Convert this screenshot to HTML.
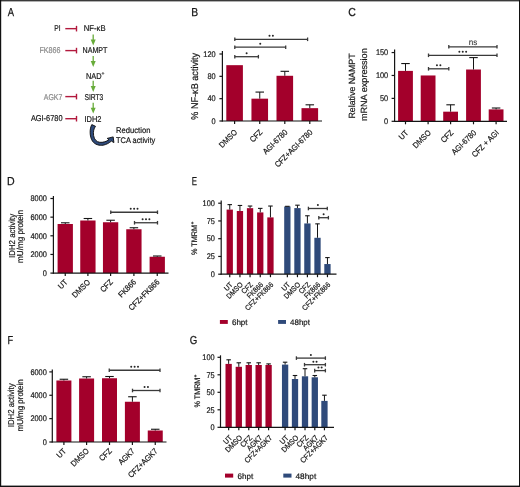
<!DOCTYPE html>
<html><head><meta charset="utf-8"><style>
html,body{margin:0;padding:0;background:#fff;width:520px;height:487px;overflow:hidden;}
svg{display:block;will-change:transform;}
text{font-family:"Liberation Sans",sans-serif;paint-order:stroke;text-rendering:geometricPrecision;}
</style></head><body>
<svg width="520" height="487" viewBox="0 0 520 487">
<rect x="0" y="0" width="520" height="487" fill="#fff"/>
<text transform="translate(7.70 16.40) scale(0.82 1)" font-size="11.5" text-anchor="start" fill="#161616" stroke="#161616" stroke-width="0.25">A</text>
<text transform="translate(60.50 30.90)" font-size="8.5" text-anchor="end" fill="#161616" stroke="#161616" stroke-width="0.2" textLength="6.3" lengthAdjust="spacingAndGlyphs">PI</text>
<text transform="translate(60.50 53.10)" font-size="8.5" text-anchor="end" fill="#8a8a8a" stroke="#8a8a8a" stroke-width="0.2" textLength="21.0" lengthAdjust="spacingAndGlyphs">FK866</text>
<text transform="translate(62.30 100.20)" font-size="8.5" text-anchor="end" fill="#8a8a8a" stroke="#8a8a8a" stroke-width="0.2" textLength="18.5" lengthAdjust="spacingAndGlyphs">AGK7</text>
<text transform="translate(62.50 121.40)" font-size="8.5" text-anchor="end" fill="#161616" stroke="#161616" stroke-width="0.2" textLength="31.6" lengthAdjust="spacingAndGlyphs">AGI-6780</text>
<line x1="65.30" y1="28.65" x2="76.60" y2="28.65" stroke="#B2193D" stroke-width="1.4"/>
<line x1="76.50" y1="25.85" x2="76.50" y2="31.45" stroke="#B2193D" stroke-width="1.4"/>
<line x1="65.30" y1="50.60" x2="76.60" y2="50.60" stroke="#B2193D" stroke-width="1.4"/>
<line x1="76.50" y1="47.80" x2="76.50" y2="53.40" stroke="#B2193D" stroke-width="1.4"/>
<line x1="65.30" y1="96.60" x2="76.60" y2="96.60" stroke="#B2193D" stroke-width="1.4"/>
<line x1="76.50" y1="93.80" x2="76.50" y2="99.40" stroke="#B2193D" stroke-width="1.4"/>
<line x1="65.30" y1="118.70" x2="76.60" y2="118.70" stroke="#B2193D" stroke-width="1.4"/>
<line x1="76.50" y1="115.90" x2="76.50" y2="121.50" stroke="#B2193D" stroke-width="1.4"/>
<text transform="translate(83.80 30.90)" font-size="8.5" text-anchor="start" fill="#161616" stroke="#161616" stroke-width="0.2" textLength="21.8" lengthAdjust="spacingAndGlyphs">NF-κB</text>
<text transform="translate(82.50 53.10)" font-size="8.5" text-anchor="start" fill="#161616" stroke="#161616" stroke-width="0.2" textLength="24.9" lengthAdjust="spacingAndGlyphs">NAMPT</text>
<text transform="translate(86.00 78.60)" font-size="8.5" text-anchor="start" fill="#161616" stroke="#161616" stroke-width="0.2" textLength="15.6" lengthAdjust="spacingAndGlyphs">NAD</text>
<text transform="translate(101.50 75.20)" font-size="5.0" text-anchor="start" fill="#161616" stroke="#161616" stroke-width="0.2">+</text>
<text transform="translate(84.40 100.20)" font-size="8.5" text-anchor="start" fill="#161616" stroke="#161616" stroke-width="0.2" textLength="18.9" lengthAdjust="spacingAndGlyphs">SIRT3</text>
<text transform="translate(84.50 121.90)" font-size="8.5" text-anchor="start" fill="#161616" stroke="#161616" stroke-width="0.2" textLength="17.0" lengthAdjust="spacingAndGlyphs">IDH2</text>
<line x1="93.20" y1="34.40" x2="93.20" y2="42.40" stroke="#68AC3A" stroke-width="1.3"/>
<polygon points="90.7,39.5 95.7,39.5 93.2,45.4" fill="#68AC3A"/>
<line x1="93.20" y1="56.00" x2="93.20" y2="64.00" stroke="#68AC3A" stroke-width="1.3"/>
<polygon points="90.7,61.1 95.7,61.1 93.2,67.0" fill="#68AC3A"/>
<line x1="93.20" y1="80.80" x2="93.20" y2="88.90" stroke="#68AC3A" stroke-width="1.3"/>
<polygon points="90.7,86.0 95.7,86.0 93.2,91.9" fill="#68AC3A"/>
<line x1="93.20" y1="102.80" x2="93.20" y2="110.60" stroke="#68AC3A" stroke-width="1.3"/>
<polygon points="90.7,107.7 95.7,107.7 93.2,113.6" fill="#68AC3A"/>
<path d="M91.8 124.6 C89.5 128.5, 89.4 136.5, 92.5 141.2 C94.8 144.6, 99.5 145.8, 103.2 145.2 C106.5 144.6, 109.4 142.8, 111.4 141.1 L113.9 142.6 L113.2 136.9 L107.2 138.4 L109.0 139.6 C106.5 141.6, 103 142.6, 99.8 142.3 C96.5 141.9, 94.2 139.5, 93.6 135.5 C93.0 131.5, 93.9 128.5, 95.5 126.3 Z" fill="#2F4A7A" stroke="#0a0a0a" stroke-width="0.9" stroke-linejoin="round"/>
<text transform="translate(116.00 133.10)" font-size="8.2" text-anchor="start" fill="#161616" stroke="#161616" stroke-width="0.2" textLength="34.4" lengthAdjust="spacingAndGlyphs">Reduction</text>
<text transform="translate(116.00 143.20)" font-size="8.2" text-anchor="start" fill="#161616" stroke="#161616" stroke-width="0.2" textLength="39.2" lengthAdjust="spacingAndGlyphs">TCA activity</text>
<text transform="translate(191.20 16.40) scale(0.9 1)" font-size="11.5" text-anchor="start" fill="#161616" stroke="#161616" stroke-width="0.25">B</text>
<rect x="226.30" y="65.17" width="16.60" height="55.83" fill="#A3002B"/>
<rect x="251.45" y="98.67" width="16.60" height="22.33" fill="#A3002B"/>
<rect x="276.50" y="75.78" width="16.60" height="45.22" fill="#A3002B"/>
<rect x="301.50" y="108.16" width="16.60" height="12.84" fill="#A3002B"/>
<line x1="259.75" y1="92.08" x2="259.75" y2="98.67" stroke="#151515" stroke-width="1"/>
<line x1="255.50" y1="92.08" x2="264.00" y2="92.08" stroke="#151515" stroke-width="1.1"/>
<line x1="284.80" y1="71.31" x2="284.80" y2="75.78" stroke="#151515" stroke-width="1"/>
<line x1="280.55" y1="71.31" x2="289.05" y2="71.31" stroke="#151515" stroke-width="1.1"/>
<line x1="309.80" y1="104.81" x2="309.80" y2="108.16" stroke="#151515" stroke-width="1"/>
<line x1="305.55" y1="104.81" x2="314.05" y2="104.81" stroke="#151515" stroke-width="1.1"/>
<line x1="222.40" y1="51.00" x2="222.40" y2="121.60" stroke="#151515" stroke-width="1.2"/>
<line x1="219.40" y1="121.00" x2="222.40" y2="121.00" stroke="#151515" stroke-width="1.2"/>
<text transform="translate(215.60 123.79) scale(0.9 1)" font-size="8.2" text-anchor="end" fill="#161616" stroke="#161616" stroke-width="0.2">0</text>
<line x1="219.40" y1="98.67" x2="222.40" y2="98.67" stroke="#151515" stroke-width="1.2"/>
<text transform="translate(215.60 101.46) scale(0.9 1)" font-size="8.2" text-anchor="end" fill="#161616" stroke="#161616" stroke-width="0.2">40</text>
<line x1="219.40" y1="76.34" x2="222.40" y2="76.34" stroke="#151515" stroke-width="1.2"/>
<text transform="translate(215.60 79.12) scale(0.9 1)" font-size="8.2" text-anchor="end" fill="#161616" stroke="#161616" stroke-width="0.2">80</text>
<line x1="219.40" y1="54.00" x2="222.40" y2="54.00" stroke="#151515" stroke-width="1.2"/>
<text transform="translate(215.60 56.79) scale(0.9 1)" font-size="8.2" text-anchor="end" fill="#161616" stroke="#161616" stroke-width="0.2">120</text>
<line x1="221.80" y1="121.00" x2="322.00" y2="121.00" stroke="#151515" stroke-width="1.2"/>
<line x1="234.60" y1="121.00" x2="234.60" y2="124.00" stroke="#151515" stroke-width="1.2"/>
<line x1="259.75" y1="121.00" x2="259.75" y2="124.00" stroke="#151515" stroke-width="1.2"/>
<line x1="284.80" y1="121.00" x2="284.80" y2="124.00" stroke="#151515" stroke-width="1.2"/>
<line x1="309.80" y1="121.00" x2="309.80" y2="124.00" stroke="#151515" stroke-width="1.2"/>
<line x1="234.80" y1="56.70" x2="258.40" y2="56.70" stroke="#3a3a3a" stroke-width="1.3"/>
<line x1="234.80" y1="54.90" x2="234.80" y2="58.50" stroke="#3a3a3a" stroke-width="1.3"/>
<line x1="258.40" y1="54.90" x2="258.40" y2="58.50" stroke="#3a3a3a" stroke-width="1.3"/>
<circle cx="246.60" cy="53.20" r="1.0" fill="#262626"/>
<line x1="234.80" y1="47.20" x2="285.70" y2="47.20" stroke="#3a3a3a" stroke-width="1.3"/>
<line x1="234.80" y1="45.40" x2="234.80" y2="49.00" stroke="#3a3a3a" stroke-width="1.3"/>
<line x1="285.70" y1="45.40" x2="285.70" y2="49.00" stroke="#3a3a3a" stroke-width="1.3"/>
<circle cx="260.25" cy="43.70" r="1.0" fill="#262626"/>
<line x1="234.80" y1="39.30" x2="307.60" y2="39.30" stroke="#3a3a3a" stroke-width="1.3"/>
<line x1="234.80" y1="37.50" x2="234.80" y2="41.10" stroke="#3a3a3a" stroke-width="1.3"/>
<line x1="307.60" y1="37.50" x2="307.60" y2="41.10" stroke="#3a3a3a" stroke-width="1.3"/>
<circle cx="269.50" cy="35.80" r="1.0" fill="#262626"/>
<circle cx="272.90" cy="35.80" r="1.0" fill="#262626"/>
<text transform="translate(237.80 132.80) rotate(-45) scale(0.9 1)" font-size="8.1" text-anchor="end" fill="#161616" stroke="#161616" stroke-width="0.2">DMSO</text>
<text transform="translate(262.95 132.80) rotate(-45) scale(0.9 1)" font-size="8.1" text-anchor="end" fill="#161616" stroke="#161616" stroke-width="0.2">CFZ</text>
<text transform="translate(288.00 132.80) rotate(-45) scale(0.9 1)" font-size="8.1" text-anchor="end" fill="#161616" stroke="#161616" stroke-width="0.2">AGI-6780</text>
<text transform="translate(313.00 132.80) rotate(-45) scale(0.9 1)" font-size="8.1" text-anchor="end" fill="#161616" stroke="#161616" stroke-width="0.2">CFZ+AGI-6780</text>
<text transform="translate(198.40 86.30) rotate(-90)" font-size="9.8" text-anchor="middle" fill="#161616" stroke="#161616" stroke-width="0.2" textLength="66.8" lengthAdjust="spacingAndGlyphs">% NF-κB activity</text>
<text transform="translate(348.30 16.40) scale(0.92 1)" font-size="11.5" text-anchor="start" fill="#161616" stroke="#161616" stroke-width="0.25">C</text>
<rect x="398.10" y="70.89" width="14.80" height="50.41" fill="#A3002B"/>
<rect x="420.70" y="75.47" width="14.80" height="45.83" fill="#A3002B"/>
<rect x="443.20" y="111.68" width="14.80" height="9.62" fill="#A3002B"/>
<rect x="466.10" y="69.51" width="14.80" height="51.79" fill="#A3002B"/>
<rect x="488.70" y="109.38" width="14.80" height="11.92" fill="#A3002B"/>
<line x1="405.50" y1="63.55" x2="405.50" y2="70.89" stroke="#151515" stroke-width="1"/>
<line x1="401.25" y1="63.55" x2="409.75" y2="63.55" stroke="#151515" stroke-width="1.1"/>
<line x1="450.60" y1="104.80" x2="450.60" y2="111.68" stroke="#151515" stroke-width="1"/>
<line x1="446.35" y1="104.80" x2="454.85" y2="104.80" stroke="#151515" stroke-width="1.1"/>
<line x1="473.50" y1="57.60" x2="473.50" y2="69.51" stroke="#151515" stroke-width="1"/>
<line x1="469.25" y1="57.60" x2="477.75" y2="57.60" stroke="#151515" stroke-width="1.1"/>
<line x1="496.10" y1="108.01" x2="496.10" y2="109.38" stroke="#151515" stroke-width="1"/>
<line x1="491.85" y1="108.01" x2="500.35" y2="108.01" stroke="#151515" stroke-width="1.1"/>
<line x1="394.60" y1="49.50" x2="394.60" y2="121.90" stroke="#151515" stroke-width="1.2"/>
<line x1="391.60" y1="121.30" x2="394.60" y2="121.30" stroke="#151515" stroke-width="1.2"/>
<text transform="translate(388.20 124.09) scale(0.9 1)" font-size="8.2" text-anchor="end" fill="#161616" stroke="#161616" stroke-width="0.2">0</text>
<line x1="391.60" y1="98.38" x2="394.60" y2="98.38" stroke="#151515" stroke-width="1.2"/>
<text transform="translate(388.20 101.17) scale(0.9 1)" font-size="8.2" text-anchor="end" fill="#161616" stroke="#161616" stroke-width="0.2">50</text>
<line x1="391.60" y1="75.47" x2="394.60" y2="75.47" stroke="#151515" stroke-width="1.2"/>
<text transform="translate(388.20 78.26) scale(0.9 1)" font-size="8.2" text-anchor="end" fill="#161616" stroke="#161616" stroke-width="0.2">100</text>
<line x1="391.60" y1="52.55" x2="394.60" y2="52.55" stroke="#151515" stroke-width="1.2"/>
<text transform="translate(388.20 55.34) scale(0.9 1)" font-size="8.2" text-anchor="end" fill="#161616" stroke="#161616" stroke-width="0.2">150</text>
<line x1="394.00" y1="121.30" x2="507.00" y2="121.30" stroke="#151515" stroke-width="1.2"/>
<line x1="405.50" y1="121.30" x2="405.50" y2="124.30" stroke="#151515" stroke-width="1.2"/>
<line x1="428.10" y1="121.30" x2="428.10" y2="124.30" stroke="#151515" stroke-width="1.2"/>
<line x1="450.60" y1="121.30" x2="450.60" y2="124.30" stroke="#151515" stroke-width="1.2"/>
<line x1="473.50" y1="121.30" x2="473.50" y2="124.30" stroke="#151515" stroke-width="1.2"/>
<line x1="496.10" y1="121.30" x2="496.10" y2="124.30" stroke="#151515" stroke-width="1.2"/>
<line x1="428.50" y1="68.80" x2="448.80" y2="68.80" stroke="#3a3a3a" stroke-width="1.3"/>
<line x1="428.50" y1="67.00" x2="428.50" y2="70.60" stroke="#3a3a3a" stroke-width="1.3"/>
<line x1="448.80" y1="67.00" x2="448.80" y2="70.60" stroke="#3a3a3a" stroke-width="1.3"/>
<circle cx="436.95" cy="65.30" r="1.0" fill="#262626"/>
<circle cx="440.35" cy="65.30" r="1.0" fill="#262626"/>
<line x1="428.50" y1="55.30" x2="497.00" y2="55.30" stroke="#3a3a3a" stroke-width="1.3"/>
<line x1="428.50" y1="53.50" x2="428.50" y2="57.10" stroke="#3a3a3a" stroke-width="1.3"/>
<line x1="497.00" y1="53.50" x2="497.00" y2="57.10" stroke="#3a3a3a" stroke-width="1.3"/>
<circle cx="459.35" cy="51.80" r="1.0" fill="#262626"/>
<circle cx="462.75" cy="51.80" r="1.0" fill="#262626"/>
<circle cx="466.15" cy="51.80" r="1.0" fill="#262626"/>
<line x1="448.80" y1="46.80" x2="497.00" y2="46.80" stroke="#3a3a3a" stroke-width="1.3"/>
<line x1="448.80" y1="45.00" x2="448.80" y2="48.60" stroke="#3a3a3a" stroke-width="1.3"/>
<line x1="497.00" y1="45.00" x2="497.00" y2="48.60" stroke="#3a3a3a" stroke-width="1.3"/>
<text transform="translate(472.90 44.50) scale(0.95 1)" font-size="8.5" text-anchor="middle" fill="#3a3a3a" stroke="#3a3a3a" stroke-width="0.12">ns</text>
<text transform="translate(408.80 133.30) rotate(-45) scale(0.9 1)" font-size="8.1" text-anchor="end" fill="#161616" stroke="#161616" stroke-width="0.2">UT</text>
<text transform="translate(431.40 133.30) rotate(-45) scale(0.9 1)" font-size="8.1" text-anchor="end" fill="#161616" stroke="#161616" stroke-width="0.2">DMSO</text>
<text transform="translate(453.90 133.30) rotate(-45) scale(0.9 1)" font-size="8.1" text-anchor="end" fill="#161616" stroke="#161616" stroke-width="0.2">CFZ</text>
<text transform="translate(476.80 133.30) rotate(-45) scale(0.9 1)" font-size="8.1" text-anchor="end" fill="#161616" stroke="#161616" stroke-width="0.2">AGI-6780</text>
<text transform="translate(499.40 133.30) rotate(-45) scale(0.9 1)" font-size="8.1" text-anchor="end" fill="#161616" stroke="#161616" stroke-width="0.2">CFZ + AGI</text>
<text transform="translate(354.90 86.00) rotate(-90)" font-size="9.0" text-anchor="middle" fill="#161616" stroke="#161616" stroke-width="0.2" textLength="65.0" lengthAdjust="spacingAndGlyphs">Relative NAMPT</text>
<text transform="translate(367.20 84.70) rotate(-90)" font-size="9.0" text-anchor="middle" fill="#161616" stroke="#161616" stroke-width="0.2" textLength="72.8" lengthAdjust="spacingAndGlyphs">mRNA expression</text>
<text transform="translate(7.00 184.60) scale(0.92 1)" font-size="11.5" text-anchor="start" fill="#161616" stroke="#161616" stroke-width="0.25">D</text>
<rect x="57.60" y="224.00" width="15.30" height="49.10" fill="#A3002B"/>
<rect x="80.25" y="220.50" width="15.30" height="52.60" fill="#A3002B"/>
<rect x="102.95" y="222.25" width="15.30" height="50.85" fill="#A3002B"/>
<rect x="126.25" y="229.25" width="15.30" height="43.85" fill="#A3002B"/>
<rect x="149.60" y="256.75" width="15.30" height="16.35" fill="#A3002B"/>
<line x1="65.25" y1="222.80" x2="65.25" y2="224.00" stroke="#151515" stroke-width="1"/>
<line x1="61.00" y1="222.80" x2="69.50" y2="222.80" stroke="#151515" stroke-width="1.1"/>
<line x1="87.90" y1="218.50" x2="87.90" y2="220.50" stroke="#151515" stroke-width="1"/>
<line x1="83.65" y1="218.50" x2="92.15" y2="218.50" stroke="#151515" stroke-width="1.1"/>
<line x1="110.60" y1="220.25" x2="110.60" y2="222.25" stroke="#151515" stroke-width="1"/>
<line x1="106.35" y1="220.25" x2="114.85" y2="220.25" stroke="#151515" stroke-width="1.1"/>
<line x1="133.90" y1="227.75" x2="133.90" y2="229.25" stroke="#151515" stroke-width="1"/>
<line x1="129.65" y1="227.75" x2="138.15" y2="227.75" stroke="#151515" stroke-width="1.1"/>
<line x1="157.25" y1="256.00" x2="157.25" y2="256.75" stroke="#151515" stroke-width="1"/>
<line x1="153.00" y1="256.00" x2="161.50" y2="256.00" stroke="#151515" stroke-width="1.1"/>
<line x1="53.40" y1="195.90" x2="53.40" y2="273.70" stroke="#151515" stroke-width="1.2"/>
<line x1="50.40" y1="273.10" x2="53.40" y2="273.10" stroke="#151515" stroke-width="1.2"/>
<text transform="translate(46.90 275.89) scale(0.9 1)" font-size="8.2" text-anchor="end" fill="#161616" stroke="#161616" stroke-width="0.2">0</text>
<line x1="50.40" y1="254.45" x2="53.40" y2="254.45" stroke="#151515" stroke-width="1.2"/>
<text transform="translate(46.90 257.24) scale(0.9 1)" font-size="8.2" text-anchor="end" fill="#161616" stroke="#161616" stroke-width="0.2">2000</text>
<line x1="50.40" y1="235.80" x2="53.40" y2="235.80" stroke="#151515" stroke-width="1.2"/>
<text transform="translate(46.90 238.59) scale(0.9 1)" font-size="8.2" text-anchor="end" fill="#161616" stroke="#161616" stroke-width="0.2">4000</text>
<line x1="50.40" y1="217.15" x2="53.40" y2="217.15" stroke="#151515" stroke-width="1.2"/>
<text transform="translate(46.90 219.94) scale(0.9 1)" font-size="8.2" text-anchor="end" fill="#161616" stroke="#161616" stroke-width="0.2">6000</text>
<line x1="50.40" y1="198.50" x2="53.40" y2="198.50" stroke="#151515" stroke-width="1.2"/>
<text transform="translate(46.90 201.29) scale(0.9 1)" font-size="8.2" text-anchor="end" fill="#161616" stroke="#161616" stroke-width="0.2">8000</text>
<line x1="52.80" y1="273.10" x2="168.50" y2="273.10" stroke="#151515" stroke-width="1.2"/>
<line x1="65.25" y1="273.10" x2="65.25" y2="276.10" stroke="#151515" stroke-width="1.2"/>
<line x1="87.90" y1="273.10" x2="87.90" y2="276.10" stroke="#151515" stroke-width="1.2"/>
<line x1="110.60" y1="273.10" x2="110.60" y2="276.10" stroke="#151515" stroke-width="1.2"/>
<line x1="133.90" y1="273.10" x2="133.90" y2="276.10" stroke="#151515" stroke-width="1.2"/>
<line x1="157.25" y1="273.10" x2="157.25" y2="276.10" stroke="#151515" stroke-width="1.2"/>
<line x1="110.75" y1="212.25" x2="157.50" y2="212.25" stroke="#3a3a3a" stroke-width="1.3"/>
<line x1="110.75" y1="210.45" x2="110.75" y2="214.05" stroke="#3a3a3a" stroke-width="1.3"/>
<line x1="157.50" y1="210.45" x2="157.50" y2="214.05" stroke="#3a3a3a" stroke-width="1.3"/>
<circle cx="130.72" cy="208.75" r="1.0" fill="#262626"/>
<circle cx="134.12" cy="208.75" r="1.0" fill="#262626"/>
<circle cx="137.53" cy="208.75" r="1.0" fill="#262626"/>
<line x1="134.50" y1="222.75" x2="157.50" y2="222.75" stroke="#3a3a3a" stroke-width="1.3"/>
<line x1="134.50" y1="220.95" x2="134.50" y2="224.55" stroke="#3a3a3a" stroke-width="1.3"/>
<line x1="157.50" y1="220.95" x2="157.50" y2="224.55" stroke="#3a3a3a" stroke-width="1.3"/>
<circle cx="142.60" cy="219.25" r="1.0" fill="#262626"/>
<circle cx="146.00" cy="219.25" r="1.0" fill="#262626"/>
<circle cx="149.40" cy="219.25" r="1.0" fill="#262626"/>
<text transform="translate(68.05 282.70) rotate(-45) scale(0.9 1)" font-size="8.1" text-anchor="end" fill="#161616" stroke="#161616" stroke-width="0.2">UT</text>
<text transform="translate(90.70 282.70) rotate(-45) scale(0.9 1)" font-size="8.1" text-anchor="end" fill="#161616" stroke="#161616" stroke-width="0.2">DMSO</text>
<text transform="translate(113.40 282.70) rotate(-45) scale(0.9 1)" font-size="8.1" text-anchor="end" fill="#161616" stroke="#161616" stroke-width="0.2">CFZ</text>
<text transform="translate(136.70 282.70) rotate(-45) scale(0.9 1)" font-size="8.1" text-anchor="end" fill="#161616" stroke="#161616" stroke-width="0.2">FK866</text>
<text transform="translate(160.05 282.70) rotate(-45) scale(0.9 1)" font-size="8.1" text-anchor="end" fill="#161616" stroke="#161616" stroke-width="0.2">CFZ+FK866</text>
<text transform="translate(14.80 235.90) rotate(-90)" font-size="8.6" text-anchor="middle" fill="#161616" stroke="#161616" stroke-width="0.2" textLength="44.0" lengthAdjust="spacingAndGlyphs">IDH2 activity</text>
<text transform="translate(23.30 236.40) rotate(-90)" font-size="8.6" text-anchor="middle" fill="#161616" stroke="#161616" stroke-width="0.2" textLength="53.0" lengthAdjust="spacingAndGlyphs">mU/mg protein</text>
<text transform="translate(191.80 184.60) scale(0.68 1)" font-size="11.5" text-anchor="start" fill="#161616" stroke="#161616" stroke-width="0.25">E</text>
<rect x="226.60" y="209.59" width="6.30" height="64.61" fill="#A3002B"/>
<rect x="236.80" y="211.01" width="6.30" height="63.19" fill="#A3002B"/>
<rect x="246.90" y="208.17" width="6.30" height="66.03" fill="#A3002B"/>
<rect x="257.10" y="212.43" width="6.30" height="61.77" fill="#A3002B"/>
<rect x="267.30" y="217.40" width="6.30" height="56.80" fill="#A3002B"/>
<rect x="284.20" y="206.47" width="6.30" height="67.73" fill="#2F4A7A"/>
<rect x="294.30" y="208.10" width="6.30" height="66.10" fill="#2F4A7A"/>
<rect x="304.25" y="223.44" width="6.30" height="50.76" fill="#2F4A7A"/>
<rect x="314.35" y="237.78" width="6.30" height="36.42" fill="#2F4A7A"/>
<rect x="324.30" y="264.05" width="6.30" height="10.15" fill="#2F4A7A"/>
<line x1="229.75" y1="204.62" x2="229.75" y2="209.59" stroke="#151515" stroke-width="1"/>
<line x1="227.50" y1="204.62" x2="232.00" y2="204.62" stroke="#151515" stroke-width="1.1"/>
<line x1="239.95" y1="205.47" x2="239.95" y2="211.01" stroke="#151515" stroke-width="1"/>
<line x1="237.70" y1="205.47" x2="242.20" y2="205.47" stroke="#151515" stroke-width="1.1"/>
<line x1="250.05" y1="206.04" x2="250.05" y2="208.17" stroke="#151515" stroke-width="1"/>
<line x1="247.80" y1="206.04" x2="252.30" y2="206.04" stroke="#151515" stroke-width="1.1"/>
<line x1="260.25" y1="208.38" x2="260.25" y2="212.43" stroke="#151515" stroke-width="1"/>
<line x1="258.00" y1="208.38" x2="262.50" y2="208.38" stroke="#151515" stroke-width="1.1"/>
<line x1="270.45" y1="206.04" x2="270.45" y2="217.40" stroke="#151515" stroke-width="1"/>
<line x1="268.20" y1="206.04" x2="272.70" y2="206.04" stroke="#151515" stroke-width="1.1"/>
<line x1="285.10" y1="206.32" x2="289.60" y2="206.32" stroke="#151515" stroke-width="1.1"/>
<line x1="297.45" y1="205.19" x2="297.45" y2="208.10" stroke="#151515" stroke-width="1"/>
<line x1="295.20" y1="205.19" x2="299.70" y2="205.19" stroke="#151515" stroke-width="1.1"/>
<line x1="307.40" y1="215.77" x2="307.40" y2="223.44" stroke="#151515" stroke-width="1"/>
<line x1="305.15" y1="215.77" x2="309.65" y2="215.77" stroke="#151515" stroke-width="1.1"/>
<line x1="317.50" y1="223.86" x2="317.50" y2="237.78" stroke="#151515" stroke-width="1"/>
<line x1="315.25" y1="223.86" x2="319.75" y2="223.86" stroke="#151515" stroke-width="1.1"/>
<line x1="327.45" y1="257.59" x2="327.45" y2="264.05" stroke="#151515" stroke-width="1"/>
<line x1="325.20" y1="257.59" x2="329.70" y2="257.59" stroke="#151515" stroke-width="1.1"/>
<line x1="221.20" y1="200.50" x2="221.20" y2="274.80" stroke="#151515" stroke-width="1.2"/>
<line x1="218.20" y1="274.20" x2="221.20" y2="274.20" stroke="#151515" stroke-width="1.2"/>
<text transform="translate(214.90 276.99) scale(0.9 1)" font-size="8.2" text-anchor="end" fill="#161616" stroke="#161616" stroke-width="0.2">0</text>
<line x1="218.20" y1="256.45" x2="221.20" y2="256.45" stroke="#151515" stroke-width="1.2"/>
<text transform="translate(214.90 259.24) scale(0.9 1)" font-size="8.2" text-anchor="end" fill="#161616" stroke="#161616" stroke-width="0.2">25</text>
<line x1="218.20" y1="238.70" x2="221.20" y2="238.70" stroke="#151515" stroke-width="1.2"/>
<text transform="translate(214.90 241.49) scale(0.9 1)" font-size="8.2" text-anchor="end" fill="#161616" stroke="#161616" stroke-width="0.2">50</text>
<line x1="218.20" y1="220.95" x2="221.20" y2="220.95" stroke="#151515" stroke-width="1.2"/>
<text transform="translate(214.90 223.74) scale(0.9 1)" font-size="8.2" text-anchor="end" fill="#161616" stroke="#161616" stroke-width="0.2">75</text>
<line x1="218.20" y1="203.20" x2="221.20" y2="203.20" stroke="#151515" stroke-width="1.2"/>
<text transform="translate(214.90 205.99) scale(0.9 1)" font-size="8.2" text-anchor="end" fill="#161616" stroke="#161616" stroke-width="0.2">100</text>
<line x1="220.60" y1="274.20" x2="336.50" y2="274.20" stroke="#151515" stroke-width="1.2"/>
<line x1="229.75" y1="274.20" x2="229.75" y2="277.20" stroke="#151515" stroke-width="1.2"/>
<line x1="239.95" y1="274.20" x2="239.95" y2="277.20" stroke="#151515" stroke-width="1.2"/>
<line x1="250.05" y1="274.20" x2="250.05" y2="277.20" stroke="#151515" stroke-width="1.2"/>
<line x1="260.25" y1="274.20" x2="260.25" y2="277.20" stroke="#151515" stroke-width="1.2"/>
<line x1="270.45" y1="274.20" x2="270.45" y2="277.20" stroke="#151515" stroke-width="1.2"/>
<line x1="287.35" y1="274.20" x2="287.35" y2="277.20" stroke="#151515" stroke-width="1.2"/>
<line x1="297.45" y1="274.20" x2="297.45" y2="277.20" stroke="#151515" stroke-width="1.2"/>
<line x1="307.40" y1="274.20" x2="307.40" y2="277.20" stroke="#151515" stroke-width="1.2"/>
<line x1="317.50" y1="274.20" x2="317.50" y2="277.20" stroke="#151515" stroke-width="1.2"/>
<line x1="327.45" y1="274.20" x2="327.45" y2="277.20" stroke="#151515" stroke-width="1.2"/>
<line x1="308.40" y1="208.50" x2="327.30" y2="208.50" stroke="#3a3a3a" stroke-width="1.3"/>
<line x1="308.40" y1="206.70" x2="308.40" y2="210.30" stroke="#3a3a3a" stroke-width="1.3"/>
<line x1="327.30" y1="206.70" x2="327.30" y2="210.30" stroke="#3a3a3a" stroke-width="1.3"/>
<circle cx="317.85" cy="205.10" r="1.0" fill="#262626"/>
<line x1="318.80" y1="217.70" x2="328.40" y2="217.70" stroke="#3a3a3a" stroke-width="1.3"/>
<line x1="318.80" y1="215.90" x2="318.80" y2="219.50" stroke="#3a3a3a" stroke-width="1.3"/>
<line x1="328.40" y1="215.90" x2="328.40" y2="219.50" stroke="#3a3a3a" stroke-width="1.3"/>
<circle cx="323.60" cy="214.30" r="1.0" fill="#262626"/>
<text transform="translate(233.15 285.20) rotate(-45) scale(0.9 1)" font-size="7.4" text-anchor="end" fill="#161616" stroke="#161616" stroke-width="0.2">UT</text>
<text transform="translate(243.35 285.20) rotate(-45) scale(0.9 1)" font-size="7.4" text-anchor="end" fill="#161616" stroke="#161616" stroke-width="0.2">DMSO</text>
<text transform="translate(253.45 285.20) rotate(-45) scale(0.9 1)" font-size="7.4" text-anchor="end" fill="#161616" stroke="#161616" stroke-width="0.2">CFZ</text>
<text transform="translate(263.65 285.20) rotate(-45) scale(0.9 1)" font-size="7.4" text-anchor="end" fill="#161616" stroke="#161616" stroke-width="0.2">FK866</text>
<text transform="translate(273.85 285.20) rotate(-45) scale(0.9 1)" font-size="7.4" text-anchor="end" fill="#161616" stroke="#161616" stroke-width="0.2">CFZ+FK866</text>
<text transform="translate(290.75 285.20) rotate(-45) scale(0.9 1)" font-size="7.4" text-anchor="end" fill="#161616" stroke="#161616" stroke-width="0.2">UT</text>
<text transform="translate(300.85 285.20) rotate(-45) scale(0.9 1)" font-size="7.4" text-anchor="end" fill="#161616" stroke="#161616" stroke-width="0.2">DMSO</text>
<text transform="translate(310.80 285.20) rotate(-45) scale(0.9 1)" font-size="7.4" text-anchor="end" fill="#161616" stroke="#161616" stroke-width="0.2">CFZ</text>
<text transform="translate(320.90 285.20) rotate(-45) scale(0.9 1)" font-size="7.4" text-anchor="end" fill="#161616" stroke="#161616" stroke-width="0.2">FK866</text>
<text transform="translate(330.85 285.20) rotate(-45) scale(0.9 1)" font-size="7.4" text-anchor="end" fill="#161616" stroke="#161616" stroke-width="0.2">CFZ+FK866</text>
<text transform="translate(196.60 240.00) rotate(-90) scale(0.9 1)" font-size="8.0" text-anchor="middle" fill="#161616" stroke="#161616" stroke-width="0.2">% TMRM</text>
<text transform="translate(194.00 223.10) rotate(-90)" font-size="5.0" text-anchor="middle" fill="#161616" stroke="#161616" stroke-width="0.2">+</text>
<rect x="219.90" y="320.00" width="7.90" height="3.90" fill="#A3002B"/>
<text transform="translate(231.90 324.80)" font-size="8.0" text-anchor="start" fill="#161616" stroke="#161616" stroke-width="0.2" textLength="15.7" lengthAdjust="spacingAndGlyphs">6hpt</text>
<rect x="278.10" y="320.00" width="7.90" height="3.90" fill="#2F4A7A"/>
<text transform="translate(290.10 324.80)" font-size="8.0" text-anchor="start" fill="#161616" stroke="#161616" stroke-width="0.2" textLength="19.8" lengthAdjust="spacingAndGlyphs">48hpt</text>
<text transform="translate(7.50 343.80) scale(0.8 1)" font-size="11.5" text-anchor="start" fill="#161616" stroke="#161616" stroke-width="0.25">F</text>
<rect x="56.40" y="380.50" width="15.00" height="61.50" fill="#A3002B"/>
<rect x="79.10" y="378.50" width="15.00" height="63.50" fill="#A3002B"/>
<rect x="102.00" y="378.25" width="15.00" height="63.75" fill="#A3002B"/>
<rect x="124.90" y="401.75" width="15.00" height="40.25" fill="#A3002B"/>
<rect x="147.75" y="430.50" width="15.00" height="11.50" fill="#A3002B"/>
<line x1="63.90" y1="379.25" x2="63.90" y2="380.50" stroke="#151515" stroke-width="1"/>
<line x1="59.65" y1="379.25" x2="68.15" y2="379.25" stroke="#151515" stroke-width="1.1"/>
<line x1="86.60" y1="376.75" x2="86.60" y2="378.50" stroke="#151515" stroke-width="1"/>
<line x1="82.35" y1="376.75" x2="90.85" y2="376.75" stroke="#151515" stroke-width="1.1"/>
<line x1="109.50" y1="376.50" x2="109.50" y2="378.25" stroke="#151515" stroke-width="1"/>
<line x1="105.25" y1="376.50" x2="113.75" y2="376.50" stroke="#151515" stroke-width="1.1"/>
<line x1="132.40" y1="396.75" x2="132.40" y2="401.75" stroke="#151515" stroke-width="1"/>
<line x1="128.15" y1="396.75" x2="136.65" y2="396.75" stroke="#151515" stroke-width="1.1"/>
<line x1="155.25" y1="429.25" x2="155.25" y2="430.50" stroke="#151515" stroke-width="1"/>
<line x1="151.00" y1="429.25" x2="159.50" y2="429.25" stroke="#151515" stroke-width="1.1"/>
<line x1="52.30" y1="369.50" x2="52.30" y2="442.60" stroke="#151515" stroke-width="1.2"/>
<line x1="49.30" y1="442.00" x2="52.30" y2="442.00" stroke="#151515" stroke-width="1.2"/>
<text transform="translate(46.80 444.79) scale(0.9 1)" font-size="8.2" text-anchor="end" fill="#161616" stroke="#161616" stroke-width="0.2">0</text>
<line x1="49.30" y1="418.63" x2="52.30" y2="418.63" stroke="#151515" stroke-width="1.2"/>
<text transform="translate(46.80 421.42) scale(0.9 1)" font-size="8.2" text-anchor="end" fill="#161616" stroke="#161616" stroke-width="0.2">2000</text>
<line x1="49.30" y1="395.27" x2="52.30" y2="395.27" stroke="#151515" stroke-width="1.2"/>
<text transform="translate(46.80 398.05) scale(0.9 1)" font-size="8.2" text-anchor="end" fill="#161616" stroke="#161616" stroke-width="0.2">4000</text>
<line x1="49.30" y1="371.90" x2="52.30" y2="371.90" stroke="#151515" stroke-width="1.2"/>
<text transform="translate(46.80 374.69) scale(0.9 1)" font-size="8.2" text-anchor="end" fill="#161616" stroke="#161616" stroke-width="0.2">6000</text>
<line x1="51.70" y1="442.00" x2="166.50" y2="442.00" stroke="#151515" stroke-width="1.2"/>
<line x1="63.90" y1="442.00" x2="63.90" y2="445.00" stroke="#151515" stroke-width="1.2"/>
<line x1="86.60" y1="442.00" x2="86.60" y2="445.00" stroke="#151515" stroke-width="1.2"/>
<line x1="109.50" y1="442.00" x2="109.50" y2="445.00" stroke="#151515" stroke-width="1.2"/>
<line x1="132.40" y1="442.00" x2="132.40" y2="445.00" stroke="#151515" stroke-width="1.2"/>
<line x1="155.25" y1="442.00" x2="155.25" y2="445.00" stroke="#151515" stroke-width="1.2"/>
<line x1="109.25" y1="370.25" x2="160.00" y2="370.25" stroke="#3a3a3a" stroke-width="1.3"/>
<line x1="109.25" y1="368.45" x2="109.25" y2="372.05" stroke="#3a3a3a" stroke-width="1.3"/>
<line x1="160.00" y1="368.45" x2="160.00" y2="372.05" stroke="#3a3a3a" stroke-width="1.3"/>
<circle cx="131.22" cy="366.75" r="1.0" fill="#262626"/>
<circle cx="134.62" cy="366.75" r="1.0" fill="#262626"/>
<circle cx="138.03" cy="366.75" r="1.0" fill="#262626"/>
<line x1="132.50" y1="390.50" x2="160.00" y2="390.50" stroke="#3a3a3a" stroke-width="1.3"/>
<line x1="132.50" y1="388.70" x2="132.50" y2="392.30" stroke="#3a3a3a" stroke-width="1.3"/>
<line x1="160.00" y1="388.70" x2="160.00" y2="392.30" stroke="#3a3a3a" stroke-width="1.3"/>
<circle cx="144.55" cy="387.00" r="1.0" fill="#262626"/>
<circle cx="147.95" cy="387.00" r="1.0" fill="#262626"/>
<text transform="translate(66.70 451.60) rotate(-45) scale(0.9 1)" font-size="8.1" text-anchor="end" fill="#161616" stroke="#161616" stroke-width="0.2">UT</text>
<text transform="translate(89.40 451.60) rotate(-45) scale(0.9 1)" font-size="8.1" text-anchor="end" fill="#161616" stroke="#161616" stroke-width="0.2">DMSO</text>
<text transform="translate(112.30 451.60) rotate(-45) scale(0.9 1)" font-size="8.1" text-anchor="end" fill="#161616" stroke="#161616" stroke-width="0.2">CFZ</text>
<text transform="translate(135.20 451.60) rotate(-45) scale(0.9 1)" font-size="8.1" text-anchor="end" fill="#161616" stroke="#161616" stroke-width="0.2">AGK7</text>
<text transform="translate(158.05 451.60) rotate(-45) scale(0.9 1)" font-size="8.1" text-anchor="end" fill="#161616" stroke="#161616" stroke-width="0.2">CFZ+AGK7</text>
<text transform="translate(14.00 405.30) rotate(-90)" font-size="8.6" text-anchor="middle" fill="#161616" stroke="#161616" stroke-width="0.2" textLength="43.8" lengthAdjust="spacingAndGlyphs">IDH2 activity</text>
<text transform="translate(23.30 405.40) rotate(-90)" font-size="8.6" text-anchor="middle" fill="#161616" stroke="#161616" stroke-width="0.2" textLength="52.2" lengthAdjust="spacingAndGlyphs">mU/mg protein</text>
<text transform="translate(189.70 343.90) scale(0.84 1)" font-size="11.5" text-anchor="start" fill="#161616" stroke="#161616" stroke-width="0.25">G</text>
<rect x="225.50" y="363.90" width="6.30" height="63.40" fill="#A3002B"/>
<rect x="235.65" y="366.80" width="6.30" height="60.50" fill="#A3002B"/>
<rect x="245.60" y="365.00" width="6.30" height="62.30" fill="#A3002B"/>
<rect x="255.50" y="365.00" width="6.30" height="62.30" fill="#A3002B"/>
<rect x="265.45" y="365.00" width="6.30" height="62.30" fill="#A3002B"/>
<rect x="281.95" y="364.60" width="6.30" height="62.70" fill="#2F4A7A"/>
<rect x="291.85" y="379.00" width="6.30" height="48.30" fill="#2F4A7A"/>
<rect x="301.85" y="376.30" width="6.30" height="51.00" fill="#2F4A7A"/>
<rect x="311.65" y="377.30" width="6.30" height="50.00" fill="#2F4A7A"/>
<rect x="321.30" y="400.90" width="6.30" height="26.40" fill="#2F4A7A"/>
<line x1="228.65" y1="359.80" x2="228.65" y2="363.90" stroke="#151515" stroke-width="1"/>
<line x1="226.40" y1="359.80" x2="230.90" y2="359.80" stroke="#151515" stroke-width="1.1"/>
<line x1="238.80" y1="362.80" x2="238.80" y2="366.80" stroke="#151515" stroke-width="1"/>
<line x1="236.55" y1="362.80" x2="241.05" y2="362.80" stroke="#151515" stroke-width="1.1"/>
<line x1="248.75" y1="362.80" x2="248.75" y2="365.00" stroke="#151515" stroke-width="1"/>
<line x1="246.50" y1="362.80" x2="251.00" y2="362.80" stroke="#151515" stroke-width="1.1"/>
<line x1="258.65" y1="362.80" x2="258.65" y2="365.00" stroke="#151515" stroke-width="1"/>
<line x1="256.40" y1="362.80" x2="260.90" y2="362.80" stroke="#151515" stroke-width="1.1"/>
<line x1="268.60" y1="363.90" x2="268.60" y2="365.00" stroke="#151515" stroke-width="1"/>
<line x1="266.35" y1="363.90" x2="270.85" y2="363.90" stroke="#151515" stroke-width="1.1"/>
<line x1="285.10" y1="362.20" x2="285.10" y2="364.60" stroke="#151515" stroke-width="1"/>
<line x1="282.85" y1="362.20" x2="287.35" y2="362.20" stroke="#151515" stroke-width="1.1"/>
<line x1="295.00" y1="375.50" x2="295.00" y2="379.00" stroke="#151515" stroke-width="1"/>
<line x1="292.75" y1="375.50" x2="297.25" y2="375.50" stroke="#151515" stroke-width="1.1"/>
<line x1="305.00" y1="368.70" x2="305.00" y2="376.30" stroke="#151515" stroke-width="1"/>
<line x1="302.75" y1="368.70" x2="307.25" y2="368.70" stroke="#151515" stroke-width="1.1"/>
<line x1="314.80" y1="375.50" x2="314.80" y2="377.30" stroke="#151515" stroke-width="1"/>
<line x1="312.55" y1="375.50" x2="317.05" y2="375.50" stroke="#151515" stroke-width="1.1"/>
<line x1="324.45" y1="395.20" x2="324.45" y2="400.90" stroke="#151515" stroke-width="1"/>
<line x1="322.20" y1="395.20" x2="326.70" y2="395.20" stroke="#151515" stroke-width="1.1"/>
<line x1="220.50" y1="355.30" x2="220.50" y2="427.90" stroke="#151515" stroke-width="1.2"/>
<line x1="217.50" y1="427.30" x2="220.50" y2="427.30" stroke="#151515" stroke-width="1.2"/>
<text transform="translate(214.60 430.09) scale(0.9 1)" font-size="8.2" text-anchor="end" fill="#161616" stroke="#161616" stroke-width="0.2">0</text>
<line x1="217.50" y1="409.80" x2="220.50" y2="409.80" stroke="#151515" stroke-width="1.2"/>
<text transform="translate(214.60 412.59) scale(0.9 1)" font-size="8.2" text-anchor="end" fill="#161616" stroke="#161616" stroke-width="0.2">25</text>
<line x1="217.50" y1="392.30" x2="220.50" y2="392.30" stroke="#151515" stroke-width="1.2"/>
<text transform="translate(214.60 395.09) scale(0.9 1)" font-size="8.2" text-anchor="end" fill="#161616" stroke="#161616" stroke-width="0.2">50</text>
<line x1="217.50" y1="374.80" x2="220.50" y2="374.80" stroke="#151515" stroke-width="1.2"/>
<text transform="translate(214.60 377.59) scale(0.9 1)" font-size="8.2" text-anchor="end" fill="#161616" stroke="#161616" stroke-width="0.2">75</text>
<line x1="217.50" y1="357.30" x2="220.50" y2="357.30" stroke="#151515" stroke-width="1.2"/>
<text transform="translate(214.60 360.09) scale(0.9 1)" font-size="8.2" text-anchor="end" fill="#161616" stroke="#161616" stroke-width="0.2">100</text>
<line x1="219.90" y1="427.30" x2="334.00" y2="427.30" stroke="#151515" stroke-width="1.2"/>
<line x1="228.65" y1="427.30" x2="228.65" y2="430.30" stroke="#151515" stroke-width="1.2"/>
<line x1="238.80" y1="427.30" x2="238.80" y2="430.30" stroke="#151515" stroke-width="1.2"/>
<line x1="248.75" y1="427.30" x2="248.75" y2="430.30" stroke="#151515" stroke-width="1.2"/>
<line x1="258.65" y1="427.30" x2="258.65" y2="430.30" stroke="#151515" stroke-width="1.2"/>
<line x1="268.60" y1="427.30" x2="268.60" y2="430.30" stroke="#151515" stroke-width="1.2"/>
<line x1="285.10" y1="427.30" x2="285.10" y2="430.30" stroke="#151515" stroke-width="1.2"/>
<line x1="295.00" y1="427.30" x2="295.00" y2="430.30" stroke="#151515" stroke-width="1.2"/>
<line x1="305.00" y1="427.30" x2="305.00" y2="430.30" stroke="#151515" stroke-width="1.2"/>
<line x1="314.80" y1="427.30" x2="314.80" y2="430.30" stroke="#151515" stroke-width="1.2"/>
<line x1="324.45" y1="427.30" x2="324.45" y2="430.30" stroke="#151515" stroke-width="1.2"/>
<line x1="296.40" y1="358.10" x2="325.40" y2="358.10" stroke="#3a3a3a" stroke-width="1.3"/>
<line x1="296.40" y1="356.30" x2="296.40" y2="359.90" stroke="#3a3a3a" stroke-width="1.3"/>
<line x1="325.40" y1="356.30" x2="325.40" y2="359.90" stroke="#3a3a3a" stroke-width="1.3"/>
<circle cx="310.90" cy="355.10" r="1.0" fill="#262626"/>
<line x1="304.50" y1="364.70" x2="325.40" y2="364.70" stroke="#3a3a3a" stroke-width="1.3"/>
<line x1="304.50" y1="362.90" x2="304.50" y2="366.50" stroke="#3a3a3a" stroke-width="1.3"/>
<line x1="325.40" y1="362.90" x2="325.40" y2="366.50" stroke="#3a3a3a" stroke-width="1.3"/>
<circle cx="313.35" cy="361.70" r="1.0" fill="#262626"/>
<circle cx="316.55" cy="361.70" r="1.0" fill="#262626"/>
<line x1="314.70" y1="370.60" x2="325.40" y2="370.60" stroke="#3a3a3a" stroke-width="1.3"/>
<line x1="314.70" y1="368.80" x2="314.70" y2="372.40" stroke="#3a3a3a" stroke-width="1.3"/>
<line x1="325.40" y1="368.80" x2="325.40" y2="372.40" stroke="#3a3a3a" stroke-width="1.3"/>
<circle cx="318.45" cy="367.60" r="1.0" fill="#262626"/>
<circle cx="321.65" cy="367.60" r="1.0" fill="#262626"/>
<text transform="translate(232.65 438.30) rotate(-45) scale(0.9 1)" font-size="7.6" text-anchor="end" fill="#161616" stroke="#161616" stroke-width="0.2">UT</text>
<text transform="translate(242.80 438.30) rotate(-45) scale(0.9 1)" font-size="7.6" text-anchor="end" fill="#161616" stroke="#161616" stroke-width="0.2">DMSO</text>
<text transform="translate(252.75 438.30) rotate(-45) scale(0.9 1)" font-size="7.6" text-anchor="end" fill="#161616" stroke="#161616" stroke-width="0.2">CFZ</text>
<text transform="translate(262.65 438.30) rotate(-45) scale(0.9 1)" font-size="7.6" text-anchor="end" fill="#161616" stroke="#161616" stroke-width="0.2">AGK7</text>
<text transform="translate(272.60 438.30) rotate(-45) scale(0.9 1)" font-size="7.6" text-anchor="end" fill="#161616" stroke="#161616" stroke-width="0.2">CFZ+AGK7</text>
<text transform="translate(289.10 438.30) rotate(-45) scale(0.9 1)" font-size="7.6" text-anchor="end" fill="#161616" stroke="#161616" stroke-width="0.2">UT</text>
<text transform="translate(299.00 438.30) rotate(-45) scale(0.9 1)" font-size="7.6" text-anchor="end" fill="#161616" stroke="#161616" stroke-width="0.2">DMSO</text>
<text transform="translate(309.00 438.30) rotate(-45) scale(0.9 1)" font-size="7.6" text-anchor="end" fill="#161616" stroke="#161616" stroke-width="0.2">CFZ</text>
<text transform="translate(318.80 438.30) rotate(-45) scale(0.9 1)" font-size="7.6" text-anchor="end" fill="#161616" stroke="#161616" stroke-width="0.2">AGK7</text>
<text transform="translate(328.45 438.30) rotate(-45) scale(0.9 1)" font-size="7.6" text-anchor="end" fill="#161616" stroke="#161616" stroke-width="0.2">CFZ+AGK7</text>
<text transform="translate(199.80 392.60) rotate(-90) scale(0.9 1)" font-size="8.0" text-anchor="middle" fill="#161616" stroke="#161616" stroke-width="0.2">% TMRM</text>
<text transform="translate(196.80 376.00) rotate(-90)" font-size="5.0" text-anchor="middle" fill="#161616" stroke="#161616" stroke-width="0.2">+</text>
<rect x="225.00" y="473.60" width="8.20" height="4.00" fill="#A3002B"/>
<text transform="translate(237.50 478.90)" font-size="8.0" text-anchor="start" fill="#161616" stroke="#161616" stroke-width="0.2" textLength="15.7" lengthAdjust="spacingAndGlyphs">6hpt</text>
<rect x="283.30" y="473.60" width="8.20" height="4.00" fill="#2F4A7A"/>
<text transform="translate(295.50 478.90)" font-size="8.0" text-anchor="start" fill="#161616" stroke="#161616" stroke-width="0.2" textLength="20.7" lengthAdjust="spacingAndGlyphs">48hpt</text>
<rect x="0" y="0" width="520" height="1.4" fill="#3a3a3a"/>
<rect x="0" y="0" width="1.2" height="487" fill="#111"/>
<rect x="519" y="0" width="1" height="487" fill="#111"/>
<rect x="0" y="485.6" width="520" height="1.4" fill="#111"/>
</svg>
</body></html>
